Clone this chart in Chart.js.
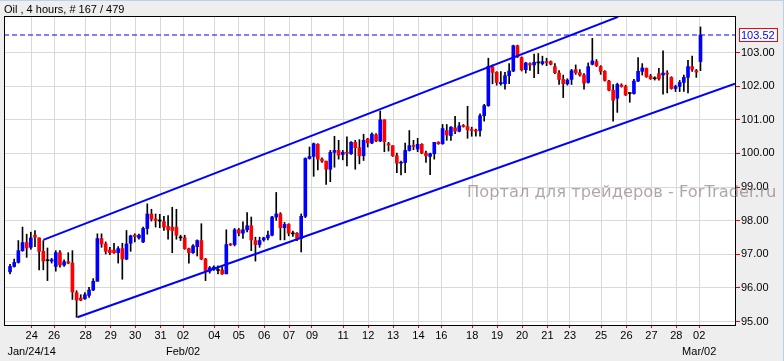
<!DOCTYPE html>
<html>
<head>
<meta charset="utf-8">
<script src="https://cdn.jsdelivr.net/npm/chart.js@4.4.0/dist/chart.umd.min.js"></script>
<style>
  body { margin: 0; background: #eeeeee; }
  #wrap { width: 784px; height: 361px; position: relative; }
</style>
</head>
<body>
<div id="wrap"><canvas id="oilChart"></canvas></div>
<script>
// 4 hour candles, Oil, Jan 24 - Mar 02 2014 (index = bar number)
var barOpen = [
  96.48, 96.64, 96.76, 97.11, 97.35, 97.21, 97.57, 97.49, 97.09, 96.81,
  96.80, 96.64, 97.05, 96.68, 96.78, 96.74, 95.86, 95.70, 95.68, 95.78,
  95.94, 96.20, 97.47, 97.31, 97.13, 97.13, 97.05, 97.17, 96.86, 97.33,
  97.57, 97.49, 97.37, 97.77, 98.20, 98.05, 97.99, 97.97, 97.83, 97.81,
  97.81, 97.49, 97.49, 97.17, 97.05, 97.23, 97.41, 96.86, 96.50, 96.56,
  96.52, 96.54, 96.42, 97.30, 97.29, 97.73, 97.63, 97.73, 97.85, 97.41,
  97.29, 97.43, 97.49, 97.57, 98.11, 98.20, 97.79, 97.89, 97.61, 97.63,
  97.47, 98.13, 99.85, 99.91, 100.27, 99.83, 99.77, 99.53, 100.03, 100.09,
  99.97, 100.03, 99.99, 100.33, 100.17, 99.93, 100.43, 100.31, 100.55, 100.37,
  101.00, 100.29, 100.23, 99.93, 99.71, 99.73, 100.09, 100.23, 100.13, 100.27,
  100.01, 99.91, 99.99, 100.33, 100.29, 100.68, 100.53, 100.76, 100.66, 100.82,
  100.80, 100.70, 100.68, 100.68, 101.12, 101.42, 102.57, 102.41, 102.07, 102.07,
  102.31, 102.45, 103.20, 102.85, 102.49, 102.67, 102.63, 102.69, 102.67, 102.72,
  102.73, 102.58, 102.39, 102.20, 102.07, 102.20, 102.49, 102.40, 102.33, 102.11,
  102.65, 102.73, 102.58, 102.44, 102.15, 101.88, 101.64, 102.03, 101.99, 101.78,
  101.78, 102.15, 102.44, 102.53, 102.30, 102.22, 102.37, 102.33, 102.38, 102.26,
  101.93, 101.99, 102.11, 102.26, 102.58, 102.46, 102.73
];
var barHigh = [
  96.70, 96.86, 97.41, 97.81, 97.60, 97.66, 97.71, 97.49, 97.41, 97.19,
  96.88, 97.11, 97.11, 96.84, 97.05, 97.11, 95.92, 95.80, 95.86, 96.02,
  96.28, 97.61, 97.61, 97.37, 97.21, 97.33, 97.23, 97.33, 97.71, 97.57,
  97.61, 97.60, 97.81, 98.50, 98.34, 98.20, 98.19, 98.13, 98.15, 98.40,
  98.34, 97.57, 97.57, 97.19, 97.29, 97.43, 97.91, 96.88, 96.64, 96.66,
  96.66, 96.62, 97.73, 97.32, 97.77, 97.77, 97.97, 98.24, 98.11, 97.51,
  97.51, 97.51, 97.69, 98.13, 98.84, 98.24, 97.95, 97.91, 97.69, 97.65,
  98.20, 99.87, 100.19, 100.31, 100.29, 99.87, 99.77, 100.09, 100.51, 100.39,
  100.09, 100.49, 100.35, 100.39, 100.41, 100.57, 100.45, 100.61, 100.59, 101.26,
  101.00, 100.33, 100.23, 100.01, 99.77, 100.31, 100.68, 100.39, 100.45, 100.29,
  100.07, 100.01, 100.33, 100.35, 100.86, 100.86, 100.80, 101.10, 100.92, 100.86,
  101.40, 100.78, 100.72, 101.18, 101.46, 102.83, 102.63, 102.43, 102.43, 102.41,
  102.67, 103.22, 103.22, 102.87, 102.71, 102.69, 102.95, 102.97, 102.89, 102.83,
  102.75, 102.67, 102.46, 102.33, 102.22, 102.50, 102.63, 102.49, 102.37, 102.69,
  103.42, 102.79, 102.61, 102.46, 102.17, 102.05, 102.09, 102.07, 102.03, 101.80,
  102.20, 102.85, 102.67, 102.54, 102.35, 102.28, 102.53, 103.05, 102.46, 102.28,
  102.03, 102.17, 102.33, 102.77, 102.89, 102.50, 103.76
];
var barLow = [
  96.42, 96.62, 96.74, 97.09, 96.91, 97.15, 97.23, 96.54, 96.54, 96.22,
  96.74, 96.50, 96.62, 96.64, 96.72, 95.66, 95.13, 95.62, 95.66, 95.72,
  95.92, 96.20, 97.21, 97.01, 96.99, 97.03, 96.74, 96.26, 96.84, 97.09,
  97.37, 97.45, 97.35, 97.60, 97.99, 97.81, 97.79, 97.71, 97.45, 97.05,
  97.45, 97.41, 97.15, 96.74, 97.03, 96.95, 96.84, 96.22, 96.44, 96.52,
  96.42, 96.40, 96.42, 97.26, 97.25, 97.55, 97.47, 97.67, 97.11, 96.80,
  97.21, 97.39, 97.43, 97.55, 98.01, 97.43, 97.43, 97.55, 97.53, 97.41,
  97.07, 98.09, 99.83, 99.32, 99.51, 99.73, 99.08, 99.16, 99.59, 99.83,
  99.81, 99.63, 99.97, 99.53, 99.69, 99.79, 100.19, 100.29, 100.35, 100.35,
  100.05, 100.07, 99.91, 99.43, 99.36, 99.43, 100.07, 100.11, 100.05, 99.99,
  99.73, 99.37, 99.83, 100.27, 100.27, 100.39, 100.39, 100.59, 100.64, 100.78,
  100.45, 100.51, 100.51, 100.51, 100.96, 101.40, 102.07, 102.03, 102.03, 101.91,
  102.07, 102.43, 102.85, 102.45, 102.39, 102.47, 102.25, 102.37, 102.63, 102.61,
  102.63, 102.37, 102.05, 101.66, 102.03, 102.05, 102.35, 102.30, 101.91, 102.09,
  102.63, 102.58, 102.35, 102.15, 101.86, 100.96, 101.22, 101.97, 101.72, 101.52,
  101.76, 102.13, 102.33, 102.26, 102.20, 102.18, 102.18, 101.76, 101.80, 101.91,
  101.84, 101.84, 101.84, 101.80, 102.44, 102.26, 102.46
];
var barClose = [
  96.64, 96.76, 97.11, 97.35, 97.19, 97.49, 97.51, 97.09, 96.80, 96.81,
  96.84, 97.05, 96.68, 96.78, 96.74, 95.88, 95.64, 95.64, 95.80, 95.94,
  96.20, 97.47, 97.31, 97.09, 97.05, 97.05, 97.17, 96.86, 97.31, 97.55,
  97.53, 97.57, 97.77, 98.20, 98.05, 98.00, 97.99, 97.81, 97.73, 97.71,
  97.57, 97.49, 97.17, 97.05, 97.25, 97.41, 96.86, 96.52, 96.60, 96.62,
  96.52, 96.42, 97.29, 97.28, 97.73, 97.63, 97.73, 97.85, 97.43, 97.29,
  97.41, 97.49, 97.57, 98.11, 98.20, 97.79, 97.89, 97.63, 97.61, 97.47,
  98.13, 99.85, 99.91, 100.29, 99.83, 99.77, 99.53, 100.03, 100.09, 99.95,
  100.03, 100.01, 100.33, 100.17, 99.93, 100.39, 100.31, 100.57, 100.37, 101.00,
  100.35, 100.25, 99.93, 99.71, 99.73, 100.09, 100.23, 100.21, 100.27, 100.01,
  99.93, 99.99, 100.33, 100.29, 100.74, 100.55, 100.78, 100.66, 100.82, 100.80,
  100.70, 100.68, 100.66, 101.12, 101.42, 102.59, 102.41, 102.11, 102.11, 102.31,
  102.45, 103.20, 102.87, 102.49, 102.69, 102.63, 102.71, 102.69, 102.73, 102.70,
  102.65, 102.40, 102.20, 102.07, 102.18, 102.46, 102.40, 102.33, 102.09, 102.58,
  102.75, 102.61, 102.44, 102.17, 101.88, 101.58, 102.05, 101.99, 101.74, 101.78,
  102.15, 102.44, 102.54, 102.28, 102.22, 102.22, 102.22, 102.39, 102.36, 101.93,
  101.99, 102.11, 102.26, 102.58, 102.50, 102.42, 103.52
];

// channel lines: [bar index, price] at each end
var upperChannel = [[8.0, 97.43], [146.2, 104.06]];
var lowerChannel = [[16.2, 95.13], [174.3, 102.07]];

// day ticks on the time axis (bar index of day start)
var dayTickPos = [5.2, 10.6, 18.2, 24.2, 30.1, 36.2, 41.6, 49.1, 55.0, 61.1, 67.1, 72.6, 80.1, 86.1,
  92.1, 98.2, 103.7, 111.1, 117.1, 123.1, 129.2, 134.6, 142.1, 148.2, 154.2, 160.2, 165.7];
var dayTickLabels = [["24", "Jan/24/14"], "26", "28", "29", "30", "31", ["02", "Feb/02"], "04", "05", "06",
  "07", "09", "11", "12", "13", "14", "16", "18", "19", "20", "21", "23", "25", "26", "27", "28", ["02", "Mar/02"]];

var priceTicks = [95, 96, 97, 98, 99, 100, 101, 102, 103];

var xMin = -1.45, xMax = 174.3;
var yMin = 94.9, yMax = 104.085;
var lastPrice = barClose[barClose.length - 1];

function candleColor(i) {
  if (barClose[i] > barOpen[i]) return "#0000ff";
  if (barClose[i] < barOpen[i]) return "#ff0000";
  return "#000000";
}

var bodies = barOpen.map(function (o, i) { return { x: i, y: [o, barClose[i]] }; });
var wicks = barLow.map(function (l, i) { return { x: i, y: [l, barHigh[i]] }; });
function toPoints(arr) { return arr.map(function (p) { return { x: p[0], y: p[1] }; }); }

Chart.defaults.font.family = "'Liberation Sans', Arial, sans-serif";
Chart.defaults.font.size = 11;
Chart.defaults.color = "#000000";

var framePlugin = {
  id: "frame",
  beforeDraw: function (chart) {
    var ctx = chart.ctx, a = chart.chartArea;
    ctx.save();
    ctx.fillStyle = "#eeeeee";
    ctx.fillRect(0, 0, chart.width, chart.height);
    ctx.fillStyle = "#b9d1ea";
    ctx.fillRect(0, 0, chart.width, 1);
    ctx.fillRect(chart.width - 1, 0, 1, chart.height);
    ctx.fillStyle = "#ffffff";
    ctx.fillRect(a.left, a.top, a.right - a.left, a.bottom - a.top);
    ctx.restore();
  },
  afterDraw: function (chart) {
    var ctx = chart.ctx, a = chart.chartArea;
    ctx.save();
    ctx.strokeStyle = "#000000";
    ctx.lineWidth = 1;
    ctx.strokeRect(a.left + 0.5, a.top + 0.5, a.right - a.left, a.bottom - a.top);

    // last price box on the right axis
    var y = Math.round(chart.scales.y.getPixelForValue(lastPrice));
    ctx.fillStyle = "#ffffff";
    ctx.fillRect(a.right + 4, y - 6, 38, 12);
    ctx.strokeStyle = "#ff0000";
    ctx.strokeRect(a.right + 4.5, y - 6.5, 38, 13);
    ctx.fillStyle = "#0000ff";
    ctx.textBaseline = "middle";
    ctx.textAlign = "left";
    ctx.font = "11px 'Liberation Sans', Arial, sans-serif";
    ctx.fillText(lastPrice.toFixed(2), a.right + 6, y + 0.5);

    // watermark
    ctx.font = "16.3px 'DejaVu Sans', sans-serif";
    ctx.fillStyle = "rgba(130, 112, 112, 0.62)";
    ctx.textBaseline = "alphabetic";
    ctx.fillText("Портал для трейдеров - ForTrader.ru", 467, 197);
    ctx.restore();
  }
};

var chart = new Chart(document.getElementById("oilChart").getContext("2d"), {
  type: "bar",
  data: {
    datasets: [
      {
        type: "line",
        data: [{ x: xMin, y: lastPrice }, { x: xMax, y: lastPrice }],
        borderColor: "#0000ff",
        borderWidth: 1,
        borderDash: [5, 3],
        pointRadius: 0,
        order: 0,
      },
      {
        type: "line",
        data: toPoints(upperChannel),
        borderColor: "#0000ff",
        borderWidth: 2,
        pointRadius: 0,
        order: 1,
      },
      {
        type: "line",
        data: toPoints(lowerChannel),
        borderColor: "#0000ff",
        borderWidth: 2,
        pointRadius: 0,
        order: 1,
      },
      {
        data: bodies,
        backgroundColor: function (c) { return candleColor(c.dataIndex); },
        barThickness: 3,
        minBarLength: 1,
        grouped: false,
        order: 2,
      },
      {
        data: wicks,
        backgroundColor: "#000000",
        barThickness: 1,
        grouped: false,
        order: 3,
      },
    ],
  },
  options: {
    responsive: true,
    maintainAspectRatio: false,
    animation: false,
    layout: { padding: { left: 4, right: 0, top: 0, bottom: 0 } },
    scales: {
      x: {
        type: "linear",
        min: xMin,
        max: xMax,
        offset: false,
        border: { display: false },
        grid: {
          offset: false,
          color: "#d9d9d9",
          tickColor: "#ff0000",
          tickLength: 3,
        },
        afterBuildTicks: function (scale) {
          scale.ticks = dayTickPos.map(function (v) { return { value: v }; });
        },
        afterFit: function (scale) { scale.height = 36; },
        ticks: {
          autoSkip: false,
          maxRotation: 0,
          padding: 0,
          font: { size: 11, lineHeight: "16px" },
          callback: function (value, index) { return dayTickLabels[index]; },
        },
      },
      y: {
        position: "right",
        min: yMin,
        max: yMax,
        stacked: false,
        border: { display: false },
        grid: {
          color: "#d9d9d9",
          tickColor: "#ff0000",
          tickLength: 5,
        },
        afterBuildTicks: function (scale) {
          scale.ticks = priceTicks.map(function (v) { return { value: v }; });
        },
        afterFit: function (scale) { scale.width = 49; },
        ticks: {
          padding: 1,
          callback: function (value) { return value.toFixed(2); },
        },
      },
    },
    plugins: {
      legend: { display: false },
      tooltip: { enabled: false },
      title: {
        display: true,
        text: "Oil , 4 hours, # 167 / 479",
        align: "start",
        color: "#000000",
        font: { size: 11, weight: "normal", lineHeight: 1 },
        padding: { top: 4, bottom: 1 },
      },
    },
  },
  plugins: [framePlugin],
});
</script>
</body>
</html>
